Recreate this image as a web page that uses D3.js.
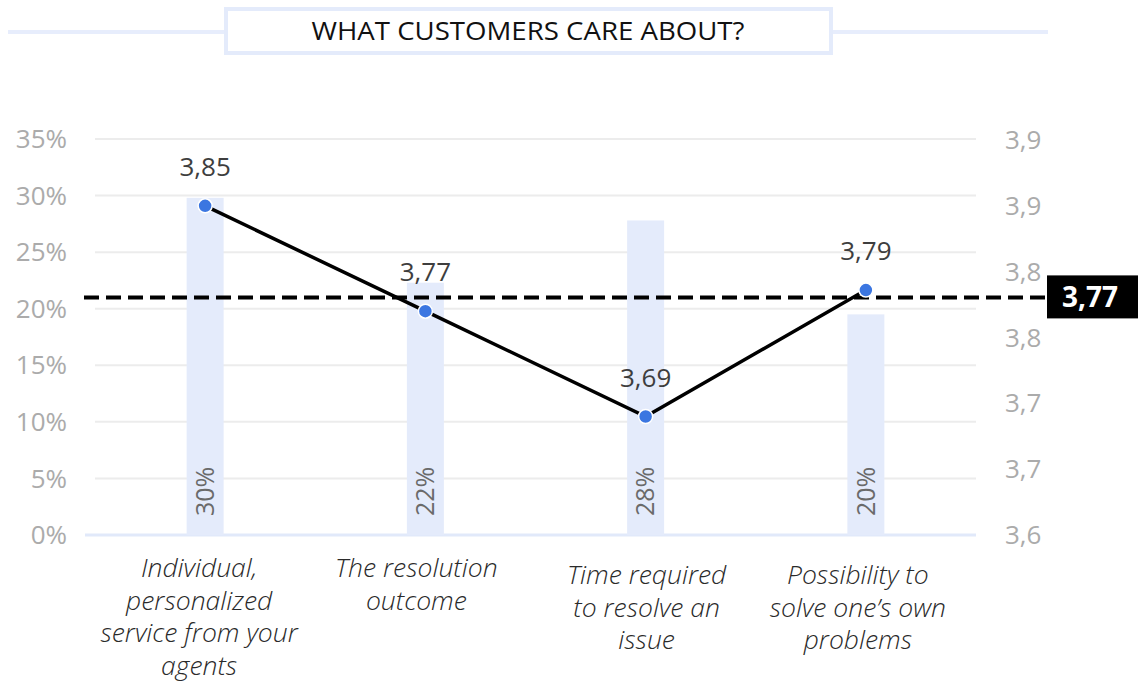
<!DOCTYPE html>
<html><head><meta charset="utf-8">
<script src="https://cdn.jsdelivr.net/npm/d3@7"></script>
<style>body{margin:0;background:#fff} text{font-family:"Open Sans",sans-serif}</style>
</head><body>
<svg id="c" width="1146" height="687"></svg>
<script>
const categories = [
  ["Individual,", "personalized", "service from your", "agents"],
  ["The resolution", "outcome"],
  ["Time required", "to resolve an", "issue"],
  ["Possibility to", "solve one’s own", "problems"]
];
const shareValues = [29.8, 22.3, 27.8, 19.5];
const scoreValues = [3.85, 3.77, 3.69, 3.786];
const leftTicks = [0, 5, 10, 15, 20, 25, 30, 35];
const rightTicks = [3.6, 3.65, 3.7, 3.75, 3.8, 3.85, 3.9];
const rightTickLabels = ["3,6", "3,7", "3,7", "3,8", "3,8", "3,9", "3,9"];
const averageScore = 3.77;
const averageShareLevel = 21;
const title = "WHAT CUSTOMERS CARE ABOUT?";

const labelTopOffsets = [0, 0, 7, 7];
const labelShift = [-6, -9, 1, -8];

const svg = d3.select("#c");
const loc = d3.formatLocale({decimal: ",", thousands: ".", grouping: [3], currency: ["", ""]});
const fmt2 = loc.format(".2f");

const x = d3.scaleBand().domain(d3.range(categories.length)).range([95, 976]);
const yL = d3.scaleLinear().domain([0, 35]).range([535, 139]);
const yR = d3.scaleLinear().domain([3.6, 3.9]).range([535, 140]);

// title
svg.append("line").attr("x1", 8).attr("x2", 224).attr("y1", 32).attr("y2", 32)
  .attr("stroke", "#e7edfc").attr("stroke-width", 4);
svg.append("line").attr("x1", 833).attr("x2", 1048).attr("y1", 32).attr("y2", 32)
  .attr("stroke", "#e7edfc").attr("stroke-width", 4);
svg.append("rect").attr("x", 226).attr("y", 9).attr("width", 605).attr("height", 44)
  .attr("fill", "#fff").attr("stroke", "#e4ebfb").attr("stroke-width", 4);
svg.append("text").attr("x", 528).attr("y", 40).attr("text-anchor", "middle")
  .attr("font-size", 26).attr("fill", "#111").attr("textLength", 433)
  .attr("lengthAdjust", "spacingAndGlyphs").text(title);

// gridlines
svg.append("g").selectAll("line").data(leftTicks.slice(1)).join("line")
  .attr("x1", 95).attr("x2", 976).attr("y1", d => yL(d)).attr("y2", d => yL(d))
  .attr("stroke", "#ececec").attr("stroke-width", 2);
svg.append("line").attr("x1", 85).attr("x2", 976).attr("y1", yL(0)).attr("y2", yL(0))
  .attr("stroke", "#e1e9fa").attr("stroke-width", 3);

// left axis
svg.append("g").selectAll("text").data(leftTicks).join("text")
  .attr("x", 67).attr("y", d => yL(d)).attr("dy", "0.35em").attr("text-anchor", "end")
  .attr("font-size", 26).attr("fill", "#ababab").text(d => d + "%");

// right axis
svg.append("g").selectAll("text").data(rightTicks).join("text")
  .attr("x", 1005).attr("y", d => yR(d)).attr("dy", "0.35em").attr("text-anchor", "start")
  .attr("font-size", 26).attr("fill", "#ababab").text((d, i) => rightTickLabels[i]);

// bars
const bw = 37;
svg.append("g").selectAll("rect").data(shareValues).join("rect")
  .attr("x", (d, i) => x(i) + x.bandwidth() / 2 - bw / 2).attr("width", bw)
  .attr("y", d => yL(d)).attr("height", d => yL(0) - yL(d)).attr("fill", "#e4ebfb");
svg.append("g").selectAll("text").data(shareValues).join("text")
  .attr("transform", (d, i) => `translate(${x(i) + x.bandwidth() / 2},516) rotate(-90)`)
  .attr("dy", "0.35em").attr("font-size", 25).attr("fill", "#6a6a6a")
  .text(d => Math.round(d) + "%");

// average dashed line
svg.append("line").attr("x1", 84).attr("x2", 1048)
  .attr("y1", yL(averageShareLevel)).attr("y2", yL(averageShareLevel))
  .attr("stroke", "#000").attr("stroke-width", 4).attr("stroke-dasharray", "15,7");
svg.append("rect").attr("x", 1047).attr("y", yL(averageShareLevel) - 22).attr("width", 91).attr("height", 43)
  .attr("fill", "#000");
svg.append("text").attr("x", 1090).attr("y", yL(averageShareLevel)).attr("dy", "0.36em")
  .attr("text-anchor", "middle").attr("font-size", 28).attr("font-weight", 700).attr("fill", "#fff")
  .text(fmt2(averageScore));

// line
const line = d3.line().x((d, i) => x(i) + x.bandwidth() / 2).y(d => yR(d));
svg.append("path").datum(scoreValues).attr("d", line).attr("fill", "none")
  .attr("stroke", "#000").attr("stroke-width", 3.5);
svg.append("g").selectAll("circle").data(scoreValues).join("circle")
  .attr("cx", (d, i) => x(i) + x.bandwidth() / 2).attr("cy", d => yR(d)).attr("r", 7)
  .attr("fill", "#3b76e1").attr("stroke", "#fff").attr("stroke-width", 1.5);
svg.append("g").selectAll("text").data(scoreValues).join("text")
  .attr("x", (d, i) => x(i) + x.bandwidth() / 2).attr("y", d => yR(d) - 39).attr("dy", "0.35em")
  .attr("text-anchor", "middle").attr("font-size", 26).attr("fill", "#3e3e3e")
  .text(d => fmt2(d));

// x labels
const xl = svg.append("g").selectAll("text").data(categories).join("text")
  .attr("x", (d, i) => x(i) + x.bandwidth() / 2 + labelShift[i])
  .attr("y", (d, i) => 577 + labelTopOffsets[i])
  .attr("text-anchor", "middle").attr("font-size", 26.5).attr("font-style", "italic")
  .attr("font-weight", 300).attr("fill", "#2a2a2a");
xl.selectAll("tspan").data(d => d).join("tspan")
  .attr("x", function() { return this.parentNode.getAttribute("x"); })
  .attr("dy", (d, j) => j === 0 ? 0 : 32.5).text(d => d);
</script>
</body></html>
